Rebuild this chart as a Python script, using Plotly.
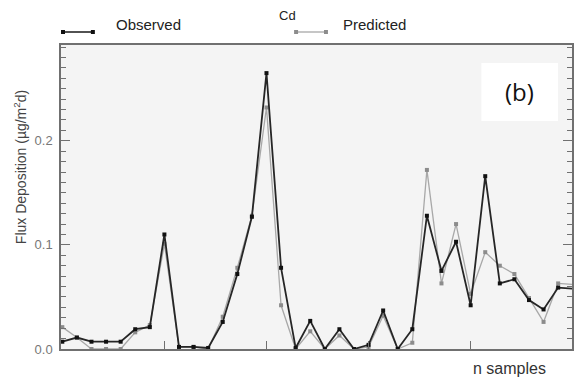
import plotly.graph_objects as go

# Cd flux deposition per sample (µg/m²d)
samples = list(range(1, 37))
observed = [0.007, 0.011, 0.007, 0.007, 0.007, 0.019, 0.021, 0.110, 0.002, 0.002,
            0.001, 0.026, 0.072, 0.127, 0.265, 0.078, 0.001, 0.027, 0.000, 0.019,
            0.000, 0.004, 0.037, 0.000, 0.019, 0.128, 0.075, 0.103, 0.042, 0.166,
            0.063, 0.067, 0.047, 0.038, 0.059, 0.058]
predicted = [0.021, 0.011, 0.000, 0.000, 0.000, 0.016, 0.023, 0.101, 0.002, 0.002,
             0.000, 0.031, 0.078, 0.128, 0.232, 0.042, 0.000, 0.017, 0.000, 0.013,
             0.000, 0.002, 0.032, 0.000, 0.006, 0.172, 0.063, 0.120, 0.053, 0.093,
             0.080, 0.072, 0.049, 0.026, 0.063, 0.062]
y_ticks = [0.0, 0.1, 0.2]
y_tick_text = ["0.0", "0.1", "0.2"]
x_ticks = [8, 15, 22, 29]

OBS_COLOR = "#262626"
PRED_COLOR = "#a8a8a8"
PRED_MARK = "#8c8c8c"
AXIS_COLOR = "#707070"
FONT = "Liberation Sans, Arial, sans-serif"

fig = go.Figure()
fig.add_trace(go.Scatter(
    x=samples, y=predicted, mode="lines+markers", name="Predicted",
    line=dict(color=PRED_COLOR, width=1.3),
    marker=dict(symbol="square", size=4, color=PRED_MARK),
    cliponaxis=False,
))
fig.add_trace(go.Scatter(
    x=samples, y=observed, mode="lines+markers", name="Observed",
    line=dict(color=OBS_COLOR, width=1.8),
    marker=dict(symbol="square", size=4, color="#111111"),
    cliponaxis=False,
))

# plot-area geometry in pixels, used to place the legend pieces
W, H = 579, 383
L, R, T, B = 61, 5, 45, 34
pw, ph = W - L - R, H - T - B


def px(xp):
    return (xp - L) / pw


def py(yp):
    return (H - B - yp) / ph


shapes = []
annotations = []

# legend samples: a line with a square marker at each end
for x0, x1, yy, lc, mc, lw in [(63, 93, 32, OBS_COLOR, "#111111", 1.6),
                               (297, 327, 32, PRED_COLOR, PRED_MARK, 1.3)]:
    shapes.append(dict(type="line", xref="paper", yref="paper",
                       x0=px(x0), x1=px(x1), y0=py(yy), y1=py(yy),
                       line=dict(color=lc, width=lw)))
    for xe in (x0, x1):
        shapes.append(dict(type="rect", xref="paper", yref="paper",
                           x0=px(xe - 2), x1=px(xe + 2), y0=py(yy + 2), y1=py(yy - 2),
                           fillcolor=mc, line=dict(width=0)))

# panel label box
shapes.append(dict(type="rect", xref="paper", yref="paper",
                   x0=px(483), x1=px(560), y0=py(121), y1=py(63),
                   fillcolor="white", line=dict(width=0), layer="above"))


def label(text, xp, yp, size, color="#222222", family=FONT, angle=0):
    return dict(text=text, x=px(xp), y=py(yp), xref="paper", yref="paper",
                xanchor="center", yanchor="middle", showarrow=False,
                textangle=angle, font=dict(size=size, color=color, family=family))


annotations += [
    label("Observed", 149, 24, 15),
    label("Predicted", 375.5, 24, 15),
    label("Cd", 288, 15, 13),
    label("(b)", 521, 91, 24, "#111111", "Open Sans, sans-serif"),
    label("n samples", 511, 368, 16, "#333333"),
    label("Flux Deposition (µg/m<sup>2</sup>d)", 20, 167, 14, "#444444", angle=-90),
]

fig.update_layout(
    width=W, height=H,
    margin=dict(l=L, r=R, t=T, b=B, pad=0),
    paper_bgcolor="white",
    plot_bgcolor="#f4f4f4",
    showlegend=False,
    shapes=shapes,
    annotations=annotations,
    font=dict(family=FONT),
)

fig.update_xaxes(
    range=[0.91, 35.95], showgrid=False, zeroline=False,
    showline=True, linecolor=AXIS_COLOR, linewidth=2, mirror=True,
    ticks="inside", tickvals=x_ticks, ticklen=8, tickcolor=AXIS_COLOR,
    showticklabels=False,
)
fig.update_yaxes(
    range=[0, 0.292], showgrid=False, zeroline=False,
    showline=True, linecolor=AXIS_COLOR, linewidth=1.5, mirror="ticks",
    ticks="inside", tickvals=y_ticks, ticktext=y_tick_text, ticklen=9,
    tickcolor=AXIS_COLOR, tickwidth=1.2,
    tickfont=dict(size=13, color="#777777", family=FONT),
    ticklabelstandoff=4,
    minor=dict(dtick=0.01, ticks="inside", ticklen=5, tickcolor=AXIS_COLOR, tickwidth=1.2),
)

fig.write_html("out.html")
